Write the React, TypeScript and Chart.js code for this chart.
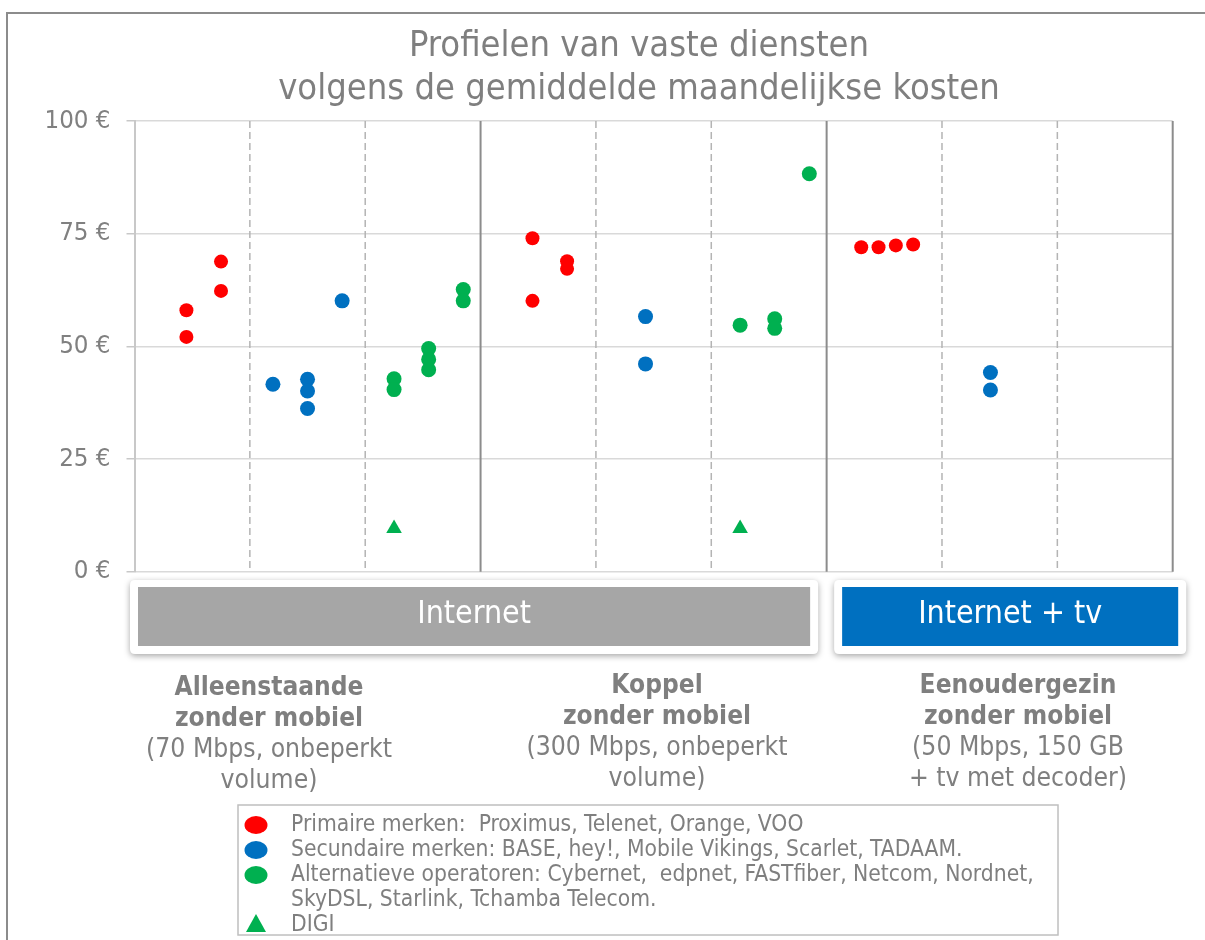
import React, { useEffect, useRef } from "react";
import { Chart, registerables } from "chart.js";

Chart.register(...registerables);

// ---------- data ----------
const titleLines = ["Profielen van vaste diensten", "volgens de gemiddelde maandelijkse kosten"];
const yTickValues = [0, 25, 50, 75, 100];
const currencySymbol = "€";

const bandLabels = ["Internet", "Internet + tv"];
const bandSpans = [[0, 6], [6, 9]];
const columnCount = 9;

const groupTitles = ["Alleenstaande", "Koppel", "Eenoudergezin"];
const groupSubtitles = ["zonder mobiel", "zonder mobiel", "zonder mobiel"];
const groupDetails = [
  ["(70 Mbps, onbeperkt", "volume)"],
  ["(300 Mbps, onbeperkt", "volume)"],
  ["(50 Mbps, 150 GB", "+ tv met decoder)"],
];

const seriesLabels = [
  "Primaire merken:  Proximus, Telenet, Orange, VOO",
  "Secundaire merken: BASE, hey!, Mobile Vikings, Scarlet, TADAAM.",
  "Alternatieve operatoren: Cybernet,  edpnet, FASTfiber, Netcom, Nordnet,\nSkyDSL, Starlink, Tchamba Telecom.",
  "DIGI",
];

const primaireX = [0.45, 0.45, 0.75, 0.75, 3.45, 3.45, 3.75, 3.75, 6.3, 6.45, 6.6, 6.75];
const primaireY = [58.0, 52.1, 68.8, 62.3, 74.0, 60.1, 68.9, 67.2, 72.0, 72.0, 72.4, 72.6];

const secundaireX = [1.2, 1.5, 1.5, 1.5, 1.8, 4.43, 4.43, 7.42, 7.42];
const secundaireY = [41.6, 42.7, 40.1, 36.2, 60.1, 56.6, 46.1, 44.2, 40.3];

const alternatiefX = [2.25, 2.25, 2.55, 2.55, 2.55, 2.85, 2.85, 5.25, 5.55, 5.55, 5.85];
const alternatiefY = [42.8, 40.4, 49.5, 47.1, 44.8, 62.6, 60.1, 54.7, 56.1, 54.0, 88.3];

const digiX = [2.25, 5.25];
const digiY = [9.6, 9.6];

// ---------- helpers ----------
const FAMILY = "'DejaVu Sans Condensed', 'DejaVu Sans', sans-serif";
const GRAY = "#7f7f7f";

function fitSize(text: string, target: number, weight = "normal"): number {
  const c = document.createElement("canvas").getContext("2d")!;
  c.font = `${weight} 100px ${FAMILY}`;
  return (100 * target) / c.measureText(text).width;
}

function toPoints(xs: number[], ys: number[]) {
  return xs.map((x, i) => ({ x, y: ys[i] }));
}

function roundRect(ctx: CanvasRenderingContext2D, l: number, t: number, r: number, b: number, rad: number) {
  ctx.beginPath();
  ctx.moveTo(l + rad, t);
  ctx.lineTo(r - rad, t);
  ctx.quadraticCurveTo(r, t, r, t + rad);
  ctx.lineTo(r, b - rad);
  ctx.quadraticCurveTo(r, b, r - rad, b);
  ctx.lineTo(l + rad, b);
  ctx.quadraticCurveTo(l, b, l, b - rad);
  ctx.lineTo(l, t + rad);
  ctx.quadraticCurveTo(l, t, l + rad, t);
  ctx.closePath();
}

export default function App() {
  const ref = useRef<HTMLCanvasElement | null>(null);

  useEffect(() => {
    if (!ref.current) return;

    const titleSize = fitSize(titleLines[1], 722);
    const tickSize = fitSize("100 " + currencySymbol, 66);
    const bandSize = fitSize(bandLabels[1], 184);
    const boldSize = fitSize(groupTitles[0], 189, "bold");
    const detailSize = fitSize(groupDetails[0][0], 246);
    const legendSize = fitSize(seriesLabels[2].split("\n")[0], 743);

    const vGrid = {
      id: "vgrid",
      beforeDatasetsDraw(chart: any) {
        const { ctx, chartArea, scales } = chart;
        const x = scales.x;
        for (let i = 1; i <= columnCount; i++) {
          const px = x.getPixelForValue(i);
          const major = i % 3 === 0;
          ctx.save();
          ctx.beginPath();
          ctx.strokeStyle = major ? "#8c8c8c" : "#b4b4b4";
          ctx.lineWidth = major ? 2 : 1.5;
          ctx.setLineDash(major ? [] : [7, 4]);
          ctx.moveTo(px, chartArea.top);
          ctx.lineTo(px, chartArea.bottom);
          ctx.stroke();
          ctx.restore();
        }
      },
    };

    const decor = {
      id: "decor",
      afterDraw(chart: any) {
        const { ctx, scales } = chart;
        const x = scales.x;
        ctx.save();

        // outer frame
        ctx.strokeStyle = "#8c8c8c";
        ctx.lineWidth = 2;
        ctx.beginPath();
        ctx.moveTo(7, 940);
        ctx.lineTo(7, 13);
        ctx.lineTo(1205, 13);
        ctx.stroke();

        // title
        ctx.fillStyle = GRAY;
        ctx.textAlign = "center";
        ctx.textBaseline = "alphabetic";
        ctx.font = `normal ${titleSize}px ${FAMILY}`;
        ctx.fillText(titleLines[0], 639, 56);
        ctx.fillText(titleLines[1], 639, 99);

        // bands
        const bandColors = ["#a6a6a6", "#0070c0"];
        const cardOffsets = [
          [-4.5, -8.5],
          [7.5, 13.5],
        ];
        bandSpans.forEach((span, i) => {
          const l = x.getPixelForValue(span[0]) + cardOffsets[i][0];
          const r = x.getPixelForValue(span[1]) + cardOffsets[i][1];
          const t = 580;
          const b = 654;
          ctx.save();
          ctx.shadowColor = "rgba(0,0,0,0.35)";
          ctx.shadowBlur = 6;
          ctx.shadowOffsetY = 2;
          ctx.fillStyle = "#ffffff";
          roundRect(ctx, l, t, r, b, 5);
          ctx.fill();
          ctx.restore();
          ctx.fillStyle = bandColors[i];
          ctx.fillRect(l + 8, t + 7, r - l - 16, b - t - 15);
          ctx.fillStyle = "#ffffff";
          ctx.font = `normal ${bandSize}px ${FAMILY}`;
          ctx.textAlign = "center";
          ctx.fillText(bandLabels[i], (l + r) / 2, 623);
        });

        // group labels
        const groupX = [269, 657, 1018];
        const groupBase = [695, 693, 693];
        ctx.fillStyle = GRAY;
        ctx.textAlign = "center";
        groupTitles.forEach((t, i) => {
          const gx = groupX[i];
          const by = groupBase[i];
          ctx.font = `bold ${boldSize}px ${FAMILY}`;
          ctx.fillText(t, gx, by);
          ctx.fillText(groupSubtitles[i], gx, by + 31);
          ctx.font = `normal ${detailSize}px ${FAMILY}`;
          ctx.fillText(groupDetails[i][0], gx, by + 62);
          ctx.fillText(groupDetails[i][1], gx, by + 93);
        });

        // legend
        ctx.strokeStyle = "#bfbfbf";
        ctx.lineWidth = 1.5;
        ctx.strokeRect(238, 805, 820, 130);
        ctx.textAlign = "left";
        ctx.font = `normal ${legendSize}px ${FAMILY}`;
        let baseY = 831;
        chart.data.datasets.forEach((ds: any) => {
          const lines = String(ds.label).split("\n");
          ctx.fillStyle = ds.backgroundColor;
          if (ds.pointStyle === "triangle") {
            ctx.beginPath();
            ctx.moveTo(256, baseY - 17);
            ctx.lineTo(266, baseY + 1);
            ctx.lineTo(246, baseY + 1);
            ctx.closePath();
            ctx.fill();
          } else {
            ctx.beginPath();
            ctx.ellipse(256, baseY - 6, 11.5, 9, 0, 0, Math.PI * 2);
            ctx.fill();
          }
          ctx.fillStyle = GRAY;
          lines.forEach((ln) => {
            ctx.fillText(ln, 291, baseY);
            baseY += 25;
          });
        });

        ctx.restore();
      },
    };

    const chart = new Chart(ref.current, {
      type: "scatter",
      data: {
        datasets: [
          {
            label: seriesLabels[0],
            data: toPoints(primaireX, primaireY),
            backgroundColor: "#ff0000",
            borderWidth: 0,
            pointRadius: 7,
            pointStyle: "circle",
          },
          {
            label: seriesLabels[1],
            data: toPoints(secundaireX, secundaireY),
            backgroundColor: "#0070c0",
            borderWidth: 0,
            pointRadius: 7.5,
            pointStyle: "circle",
          },
          {
            label: seriesLabels[2],
            data: toPoints(alternatiefX, alternatiefY),
            backgroundColor: "#00b050",
            borderWidth: 0,
            pointRadius: 7.5,
            pointStyle: "circle",
          },
          {
            label: seriesLabels[3],
            data: toPoints(digiX, digiY),
            backgroundColor: "#00b050",
            borderWidth: 0,
            pointRadius: 9,
            pointStyle: "triangle",
          },
        ] as any,
      },
      options: {
        responsive: false,
        animation: false,
        devicePixelRatio: 1,
        layout: { padding: { left: 0, top: 121, right: 32.3, bottom: 368.3 } },
        plugins: {
          legend: { display: false },
          title: { display: false },
          tooltip: { enabled: false },
        },
        scales: {
          x: { type: "linear", min: 0, max: columnCount, display: false },
          y: {
            type: "linear",
            min: yTickValues[0],
            max: yTickValues[yTickValues.length - 1],
            afterBuildTicks: (scale: any) => {
              scale.ticks = yTickValues.map((v) => ({ value: v }));
            },
            afterFit: (scale: any) => {
              scale.width = 134.5;
            },
            ticks: {
              callback: (v: any) => `${v} ${currencySymbol}`,
              color: "#808080",
              font: { family: FAMILY, size: tickSize },
              padding: 16,
            },
            grid: {
              color: "#d9d9d9",
              lineWidth: 1.5,
              tickLength: 8,
              tickColor: "#c8c8c8",
            },
            border: { color: "#c8c8c8", width: 2 },
          },
        },
      } as any,
      plugins: [vGrid, decor],
    });

    return () => chart.destroy();
  }, []);

  return (
    <div style={{ position: "absolute", left: 0, top: 0, width: 1205, height: 940, background: "#fff" }}>
      <canvas ref={ref} width={1205} height={940} style={{ width: 1205, height: 940, display: "block" }} />
    </div>
  );
}
